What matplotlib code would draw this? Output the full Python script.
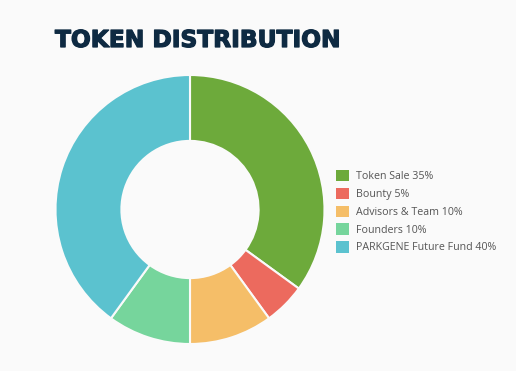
import matplotlib.pyplot as plt
import matplotlib.patheffects as pe
from matplotlib.patches import Patch

# token split (percent)
labels = ["Token Sale 35%", "Bounty 5%", "Advisors & Team 10%", "Founders 10%", "PARKGENE Future Fund 40%"]
shares = [35, 5, 10, 10, 40]
colors = ["#6daa3b", "#ec6a5e", "#f5be68", "#76d59c", "#5bc2cf"]

W, H = 516, 371
fig = plt.figure(figsize=(W / 100, H / 100), dpi=100)
fig.patch.set_facecolor("#fafafa")

# donut axes, centre ~(190, 209), radius ~134 px
cx, cy, r = 190, 209.5, 134.5
ax = fig.add_axes([(cx - r) / W, (H - cy - r) / H, 2 * r / W, 2 * r / H])
ax.pie(shares, colors=colors, startangle=90, counterclock=False, radius=1,
       wedgeprops=dict(width=0.49, edgecolor="#fafafa", linewidth=1.5))
ax.set_xlim(-1, 1)
ax.set_ylim(-1, 1)
ax.set_aspect("equal")
ax.axis("off")

# title - stroked a bit to look heavier
title = fig.text(55 / W, 1 - 47 / H, "TOKEN DISTRIBUTION", fontsize=16.8, fontweight="bold",
                 family="DejaVu Sans", color="#0e2a42", va="baseline")
title.set_path_effects([pe.withStroke(linewidth=0.9, foreground="#0e2a42")])

handles = [Patch(facecolor=c, edgecolor="none") for c in colors]
leg = fig.legend(handles, labels, loc="upper left", bbox_to_anchor=(336 / W, 1 - 170 / H),
                 frameon=False, borderpad=0, borderaxespad=0,
                 handlelength=1.25, handleheight=1.25, handletextpad=0.6,
                 labelspacing=0.52, prop=dict(family="Open Sans", size=7.7))
for t in leg.get_texts():
    t.set_color("#555555")

fig.savefig("out.png", dpi=100, facecolor=fig.get_facecolor())
